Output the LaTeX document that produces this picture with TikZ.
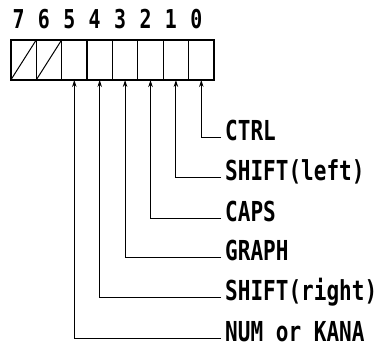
\documentclass[tikz,border=0pt]{standalone}
\usepackage{fontspec}
\newfontfamily\keyfont[FakeStretch=0.765]{DejaVu Sans Mono}
\usepackage{tikz}
\usetikzlibrary{arrows.meta, positioning}
\tikzstyle{bitcell} = [draw, line width=1.2pt, minimum width=25.4pt, minimum height=40pt, inner sep=0pt, outer sep=0pt]
\tikzstyle{bitnum} = [font=\keyfont\bfseries\fontsize{26}{26}\selectfont, inner sep=0pt]
\tikzstyle{keylabel} = [anchor=west, font=\keyfont\bfseries\fontsize{27.5}{27.5}\selectfont, text height=0.73em, text depth=0pt, inner ysep=0pt, inner xsep=4pt]
\tikzstyle{arrow} = [line width=1pt, -{Stealth[length=7pt,width=4.5pt]}]

\begin{document}
\begin{tikzpicture}[x=1pt, y=-1pt]
    \useasboundingbox (0,0) rectangle (380,354);
    % register bits
    \foreach \b [count=\i from 0] in {7,6,...,0} {
        \node[bitcell] (b\b) at ({23.5+25.4*\i},60) {};
        \node[bitnum] (n\b) at ({18.5+25.4*\i},19) {\b};
    }
    \draw[line width=1.4pt] (b7.north west) rectangle (b0.south east);
    \draw[line width=1pt] (b7.south west) -- (b7.north east);
    \draw[line width=1pt] (b6.south west) -- (b6.north east);
    % key names
    \node[keylabel] (ctrl) at (221,137) {CTRL};
    \node[keylabel] (shl) at (221,177) {SHIFT(left)};
    \node[keylabel] (caps) at (221,218) {CAPS};
    \node[keylabel] (graph) at (221,257) {GRAPH};
    \node[keylabel] (shr) at (221,297) {SHIFT(right)};
    \node[keylabel] (kana) at (221,338) {NUM or KANA};
    \draw[arrow] (ctrl.west) -| (b0.south);
    \draw[arrow] (shl.west) -| (b1.south);
    \draw[arrow] (caps.west) -| (b2.south);
    \draw[arrow] (graph.west) -| (b3.south);
    \draw[arrow] (shr.west) -| (b4.south);
    \draw[arrow] (kana.west) -| (b5.south);
\end{tikzpicture}
\end{document}
